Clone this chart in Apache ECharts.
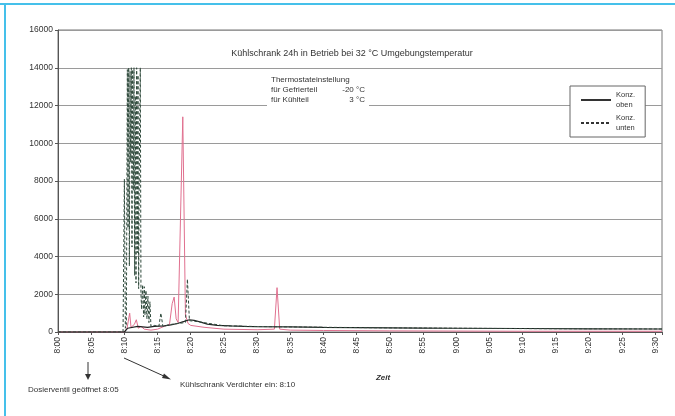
<!DOCTYPE html>
<html>
<head>
<meta charset="utf-8">
<script src="https://cdn.jsdelivr.net/npm/echarts@6/dist/echarts.min.js"></script>
<style>
html,body{margin:0;padding:0;background:#fff;}
#c{width:675px;height:416px;}
</style>
</head>
<body>
<div id="c"></div>
<script>
// x values are minutes after 8:00
var tickLabels = ['8:00','8:05','8:10','8:15','8:20','8:25','8:30','8:35','8:40','8:45','8:50','8:55','9:00','9:05','9:10','9:15','9:20','9:25','9:30'];
var yTicks = [0,2000,4000,6000,8000,10000,12000,14000,16000];

var obenT = [0, 10, 10.5, 12, 13.5, 14.5, 16, 17, 18, 19, 19.8, 20.5, 21.5, 22.5, 24, 26, 28, 30, 35, 40, 45, 50, 55, 60, 70, 80, 91];
var obenV = [0, 0, 200, 300, 250, 300, 320, 380, 450, 560, 650, 620, 520, 420, 350, 320, 300, 290, 270, 250, 235, 220, 210, 200, 185, 170, 160];

var untenT = [0, 9.8, 10.0, 10.15, 10.3, 10.45, 10.55, 10.65, 10.75, 10.85, 10.95, 11.05, 11.15, 11.25, 11.35, 11.45, 11.55, 11.65, 11.75, 11.85, 11.95, 12.05, 12.15, 12.25, 12.4, 12.5, 12.6, 12.75, 12.9, 13.0, 13.1, 13.25, 13.4, 13.55, 13.7, 13.85, 14.0, 14.2, 14.5, 15.2, 15.5, 15.8, 17, 19.2, 19.5, 19.8, 21, 25, 30, 40, 50, 60, 70, 80, 91];
var untenV = [0, 0, 8100, 200, 400, 13900, 5500, 14000, 3500, 13800, 9000, 14000, 4500, 13900, 7500, 14000, 3000, 12500, 2600, 14000, 4200, 13600, 2300, 9000, 14000, 2000, 1200, 2500, 800, 2400, 900, 2200, 700, 1900, 500, 1600, 300, 350, 350, 300, 1000, 300, 400, 500, 2800, 600, 550, 330, 290, 250, 220, 200, 180, 170, 160];

var rotT = [0, 10, 10.4, 10.8, 11.0, 11.5, 11.8, 12.1, 12.5, 13, 14, 15, 16, 16.8, 17.2, 17.5, 17.8, 18.1, 18.4, 18.8, 19.2, 19.6, 20, 22, 25, 30, 32.6, 33.0, 33.4, 35, 40, 50, 60, 70, 80, 91];
var rotV = [0, 0, 200, 1000, 250, 400, 650, 200, 300, 150, 100, 150, 300, 400, 1500, 1850, 700, 500, 600, 11400, 900, 450, 350, 250, 150, 120, 150, 2350, 150, 100, 80, 60, 50, 40, 40, 40];

function pairs(t, v){ return t.map(function(x,i){ return [x, v[i]]; }); }

var FONT = 'Liberation Sans';
var chart = echarts.init(document.getElementById('c'), null, {renderer:'canvas'});
chart.setOption({
  backgroundColor: '#fff',
  animation: false,
  textStyle: {fontFamily: FONT},
  title: [
    {text: 'Kühlschrank 24h in Betrieb bei 32 °C Umgebungstemperatur', left: 347, textAlign: 'center', top: 44,
     textStyle: {fontSize: 9, fontWeight: 'normal', color: '#333', fontFamily: FONT}},
    {text: '{h|Thermostateinstellung}\n{a|für Gefrierteil}{b|-20 °C}\n{a|für Kühlteil}{b|3 °C}', left: 267, top: 73,
     padding: [2, 4, 3, 4], backgroundColor: '#fff',
     textStyle: {fontSize: 8, fontWeight: 'normal', color: '#333', fontFamily: FONT, lineHeight: 10,
       rich: {h: {fontSize: 8, color: '#333', width: 94}, a: {fontSize: 8, color: '#333', width: 64}, b: {fontSize: 8, color: '#333', width: 30, align: 'right'}}}}
  ],
  legend: {
    orient: 'vertical', left: 570, top: 86,
    padding: [4, 10, 4, 10], itemGap: 3, itemWidth: 30, itemHeight: 8,
    backgroundColor: '#fff', borderColor: '#666', borderWidth: 1,
    data: [
      {name: 'Konz. oben', itemStyle: {opacity: 0}, lineStyle: {color: '#333'}},
      {name: 'Konz. unten', itemStyle: {opacity: 0}, lineStyle: {color: '#333'}}
    ],
    formatter: function(n){ return n.replace(' ', '\n'); },
    textStyle: {fontSize: 7.5, lineHeight: 10, color: '#333', fontFamily: FONT}
  },
  grid: {left: 58, right: 13, top: 30, bottom: 84, show: true, borderColor: '#777', borderWidth: 1},
  xAxis: {
    type: 'value', min: 0, max: 91, interval: 5,
    name: 'Zeit', nameLocation: 'middle', nameGap: 42,
    nameTextStyle: {fontSize: 8, fontStyle: 'italic', fontWeight: 'bold', color: '#333', padding: [0, 0, 0, 46]},
    axisLine: {lineStyle: {color: '#555', width: 1}},
    axisTick: {show: true, length: 3, lineStyle: {color: '#555'}},
    splitLine: {show: false},
    axisLabel: {rotate: 90, fontSize: 8.5, color: '#333', margin: 5,
      formatter: function(v){ var i = v / 5; return (Math.abs(i - Math.round(i)) < 1e-6 && i < tickLabels.length) ? tickLabels[Math.round(i)] : ''; }}
  },
  yAxis: {
    type: 'value', min: 0, max: 16000, interval: 2000,
    axisLine: {show: true, lineStyle: {color: '#555'}},
    axisTick: {show: true, length: 3, lineStyle: {color: '#555'}},
    splitLine: {show: true, lineStyle: {color: '#9a9a9a', width: 1}},
    axisLabel: {fontSize: 8.5, color: '#333', margin: 5,
      formatter: function(v){ return yTicks.indexOf(v) >= 0 ? String(v) : ''; }}
  },
  series: [
    {name: 'Konz. oben', type: 'line', symbol: 'none', data: pairs(obenT, obenV), z: 3,
     lineStyle: {color: '#222', width: 1.2}, itemStyle: {color: '#222'}},
    {name: 'Konz. unten', type: 'line', symbol: 'none', data: pairs(untenT, untenV), z: 4,
     lineStyle: {color: '#2f4a3c', width: 1, type: [3, 2]}, itemStyle: {color: '#2f4a3c'}},
    {name: 'Konz. rot', type: 'line', symbol: 'none', data: pairs(rotT, rotV), z: 2,
     lineStyle: {color: '#e0708f', width: 1}, itemStyle: {color: '#e0708f'}}
  ],
  graphic: [
    {type: 'line', shape: {x1: 0, y1: 4, x2: 675, y2: 4}, style: {stroke: '#45c0ea', lineWidth: 2}},
    {type: 'line', shape: {x1: 5, y1: 4, x2: 5, y2: 416}, style: {stroke: '#45c0ea', lineWidth: 2}},
    {type: 'line', shape: {x1: 88, y1: 362, x2: 88, y2: 374}, style: {stroke: '#333', lineWidth: 1}},
    {type: 'polygon', shape: {points: [[85, 374], [91, 374], [88, 380]]}, style: {fill: '#333'}},
    {type: 'text', left: 28, top: 386, style: {text: 'Dosierventil geöffnet 8:05', fontSize: 8, fill: '#333', fontFamily: FONT}},
    {type: 'line', shape: {x1: 124, y1: 358, x2: 166, y2: 377}, style: {stroke: '#333', lineWidth: 1}},
    {type: 'polygon', shape: {points: [[164, 373.5], [162, 378], [171, 379.5]]}, style: {fill: '#333'}},
    {type: 'text', left: 180, top: 381, style: {text: 'Kühlschrank Verdichter ein: 8:10', fontSize: 8, fill: '#333', fontFamily: FONT}}
  ]
});
</script>
</body>
</html>
